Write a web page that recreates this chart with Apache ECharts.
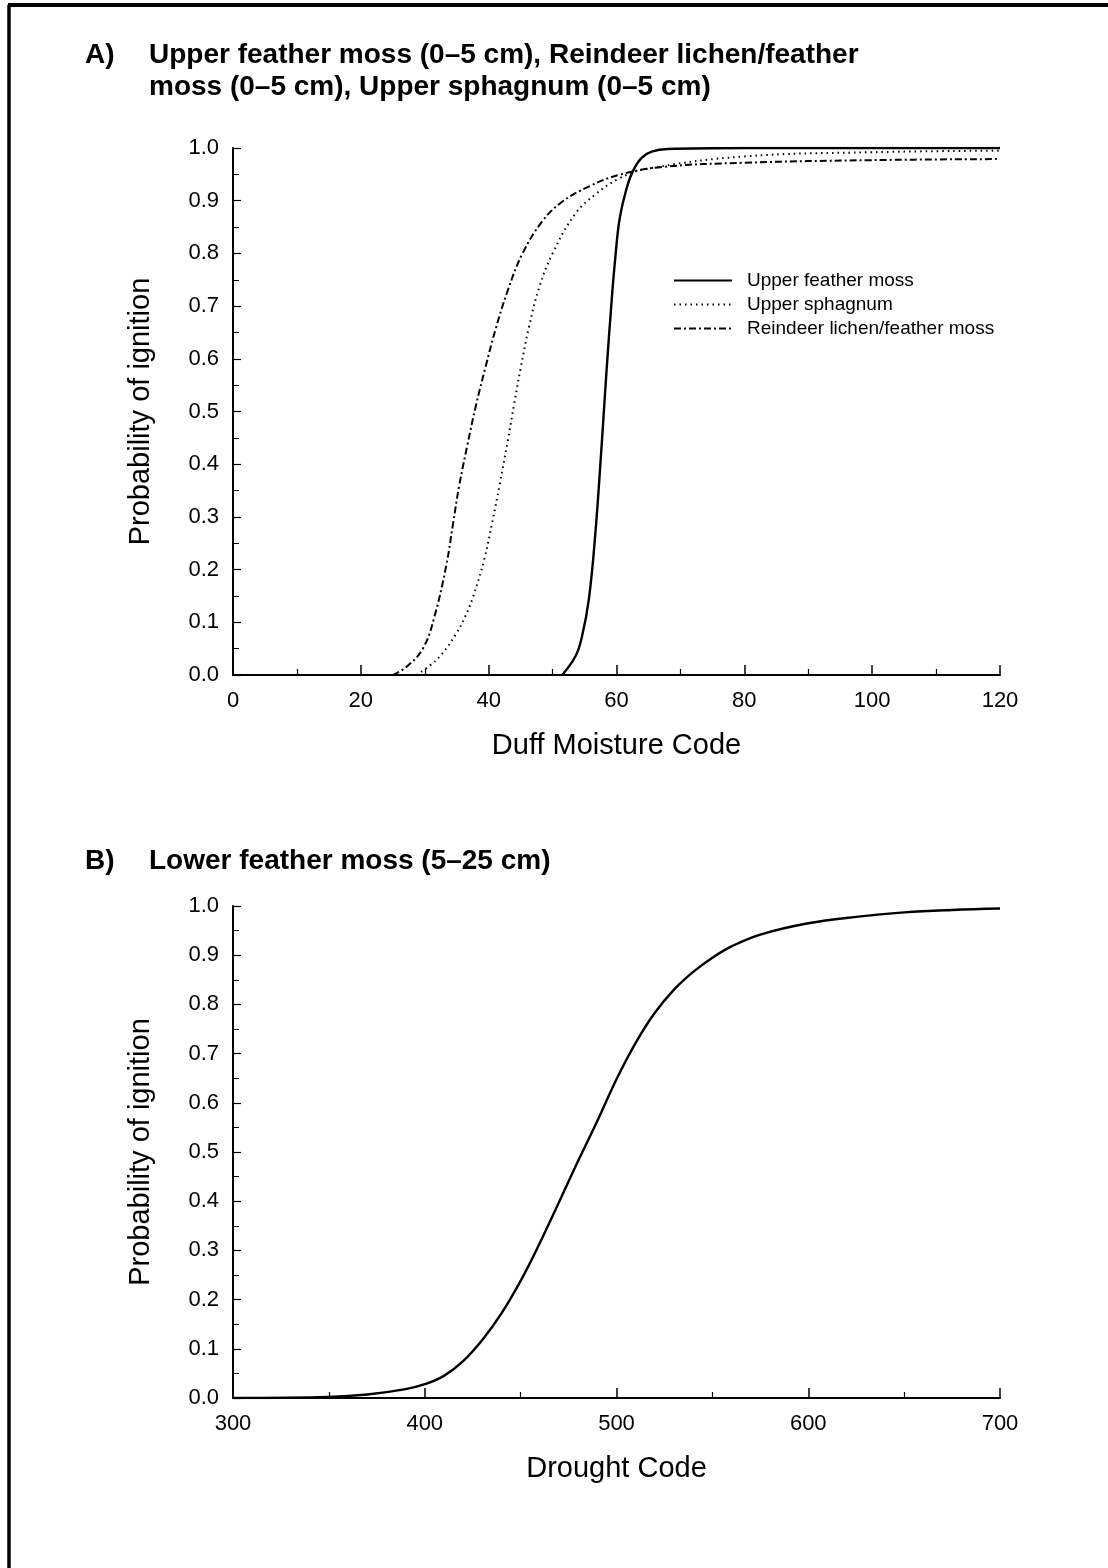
<!DOCTYPE html>
<html>
<head>
<meta charset="utf-8">
<script src="https://cdn.jsdelivr.net/npm/echarts@6/dist/echarts.min.js"></script>
<style>
html,body{margin:0;padding:0;background:#fff;}
#chart{width:1108px;height:1568px;}
</style>
</head>
<body>
<div id="chart"></div>
<script>
// ---- Panel A data (Duff Moisture Code) ----
const seriesNamesA = ['Upper feather moss', 'Upper sphagnum', 'Reindeer lichen/feather moss'];
const featherMossX = [51.5, 53.6, 54.6, 55.7, 56.7, 57.7, 58.4, 59.3, 59.8, 60.3, 60.8, 61.4, 62.1, 63.0, 64.0, 65.5, 68.0, 80, 100, 120];
const featherMossY = [0, 0.036, 0.073, 0.146, 0.27, 0.44, 0.57, 0.72, 0.79, 0.85, 0.885, 0.915, 0.943, 0.966, 0.982, 0.993, 0.998, 1.0, 1.0, 1.0];
const sphagnumX = [28.7, 30.8, 32.7, 34.9, 36.3, 37.5, 39.3, 40.6, 41.7, 43.0, 44.0, 45.0, 46.3, 47.9, 50.0, 53.6, 56.7, 60.4, 64.5, 80, 100, 120];
const sphagnumY = [0, 0.018, 0.04, 0.078, 0.11, 0.146, 0.219, 0.292, 0.36, 0.445, 0.515, 0.582, 0.66, 0.735, 0.80, 0.876, 0.912, 0.942, 0.96, 0.984, 0.992, 0.995];
const lichenX = [25, 27.1, 29.7, 31.5, 33.4, 34.4, 35.4, 36.7, 38.0, 39.5, 41.1, 43.0, 45.3, 48.4, 51.5, 55.7, 60.4, 67.1, 80, 100, 120];
const lichenY = [0, 0.015, 0.05, 0.11, 0.21, 0.285, 0.36, 0.438, 0.511, 0.584, 0.657, 0.73, 0.80, 0.861, 0.898, 0.927, 0.949, 0.964, 0.972, 0.977, 0.979];

// ---- Panel B data (Drought Code) ----
const lowerMossX = [300, 350, 370, 390, 400, 410, 420, 430, 440, 450, 460, 470, 480, 490, 500, 510, 520, 530, 540, 550, 560, 575, 600, 625, 650, 675, 700];
const lowerMossY = [0, 0.002, 0.007, 0.018, 0.028, 0.045, 0.075, 0.118, 0.172, 0.238, 0.315, 0.398, 0.482, 0.563, 0.648, 0.722, 0.783, 0.83, 0.866, 0.895, 0.918, 0.942, 0.965, 0.978, 0.987, 0.992, 0.995];

// ---- Text ----
const titleA = 'Upper feather moss (0–5 cm), Reindeer lichen/feather\nmoss (0–5 cm), Upper sphagnum (0–5 cm)';
const titleB = 'Lower feather moss (5–25 cm)';
const yName = 'Probability of ignition';
const xNameA = 'Duff Moisture Code';
const xNameB = 'Drought Code';

const pairs = (xs, ys) => xs.map((x, i) => [x, ys[i]]);
const FONT = '"Liberation Sans", Arial, Helvetica, sans-serif';

function xAxisCfg(gridIndex, min, max, interval, name) {
  return {
    type: 'value', gridIndex, min, max, interval, name,
    nameLocation: 'middle', nameGap: 56,
    nameTextStyle: {fontFamily: FONT, fontSize: 29, color: '#000'},
    axisLine: {lineStyle: {color: '#000', width: 2}},
    axisTick: {inside: true, length: 10, lineStyle: {color: '#000', width: 1.5}},
    minorTick: {show: true, splitNumber: 2, length: 6, lineStyle: {color: '#000', width: 1.2}},
    axisLabel: {fontFamily: FONT, fontSize: 22, color: '#000', margin: 15},
    splitLine: {show: false}
  };
}
function yAxisCfg(gridIndex) {
  return {
    type: 'value', gridIndex, min: 0, max: 1, interval: 0.1, name: yName,
    nameLocation: 'middle', nameGap: 78,
    nameTextStyle: {fontFamily: FONT, fontSize: 29, color: '#000'},
    axisLine: {show: true, lineStyle: {color: '#000', width: 2}},
    axisTick: {show: true, inside: true, length: 8, lineStyle: {color: '#000', width: 1.2}},
    minorTick: {show: true, splitNumber: 2, length: 6, lineStyle: {color: '#000', width: 1}},
    axisLabel: {fontFamily: FONT, fontSize: 22, color: '#000', margin: 14, formatter: v => v.toFixed(1)},
    splitLine: {show: false}
  };
}
const titleStyle = {fontFamily: FONT, fontSize: 28, fontWeight: 'bold', color: '#000', lineHeight: 32};

const chart = echarts.init(document.getElementById('chart'), null, {renderer: 'canvas'});
chart.setOption({
  backgroundColor: '#fff',
  animation: false,
  title: [
    {text: 'A)', left: 80, top: 34, textStyle: titleStyle},
    {text: titleA, left: 144, top: 34, textStyle: titleStyle},
    {text: 'B)', left: 80, top: 840, textStyle: titleStyle},
    {text: titleB, left: 144, top: 840, textStyle: titleStyle}
  ],
  legend: {
    data: seriesNamesA,
    orient: 'vertical', left: 668, top: 266,
    itemWidth: 58, itemHeight: 14, itemGap: 5,
    itemStyle: {color: 'rgba(0,0,0,0)', borderWidth: 0, opacity: 0},
    textStyle: {fontFamily: FONT, fontSize: 19, color: '#000', padding: [0, 0, 0, 10]},
    selectedMode: false
  },
  grid: [
    {left: 233, width: 767, top: 148, height: 527},
    {left: 233, width: 767, top: 906, height: 492}
  ],
  xAxis: [xAxisCfg(0, 0, 120, 20, xNameA), xAxisCfg(1, 300, 700, 100, xNameB)],
  yAxis: [yAxisCfg(0), yAxisCfg(1)],
  series: [
    {name: seriesNamesA[0], type: 'line', xAxisIndex: 0, yAxisIndex: 0, data: pairs(featherMossX, featherMossY),
     showSymbol: false, symbol: 'none', smooth: 0.4,
     lineStyle: {color: '#000', width: 2.4, type: 'solid'}, itemStyle: {color: '#000'}},
    {name: seriesNamesA[1], type: 'line', xAxisIndex: 0, yAxisIndex: 0, data: pairs(sphagnumX, sphagnumY),
     showSymbol: false, symbol: 'none', smooth: 0.4,
     lineStyle: {color: '#000', width: 2, type: [1.5, 4]}, itemStyle: {color: '#000'}},
    {name: seriesNamesA[2], type: 'line', xAxisIndex: 0, yAxisIndex: 0, data: pairs(lichenX, lichenY),
     showSymbol: false, symbol: 'none', smooth: 0.4,
     lineStyle: {color: '#000', width: 2, type: [7, 3, 2, 3]}, itemStyle: {color: '#000'}},
    {name: 'Lower feather moss', type: 'line', xAxisIndex: 1, yAxisIndex: 1, data: pairs(lowerMossX, lowerMossY),
     showSymbol: false, symbol: 'none', smooth: 0.4,
     lineStyle: {color: '#000', width: 2.4, type: 'solid'}, itemStyle: {color: '#000'}}
  ],
  graphic: [
    {type: 'line', shape: {x1: 8, y1: 5, x2: 1108, y2: 5}, style: {stroke: '#000', lineWidth: 4}},
    {type: 'line', shape: {x1: 9, y1: 5, x2: 9, y2: 1568}, style: {stroke: '#000', lineWidth: 3.5}}
  ]
});
</script>
</body>
</html>
